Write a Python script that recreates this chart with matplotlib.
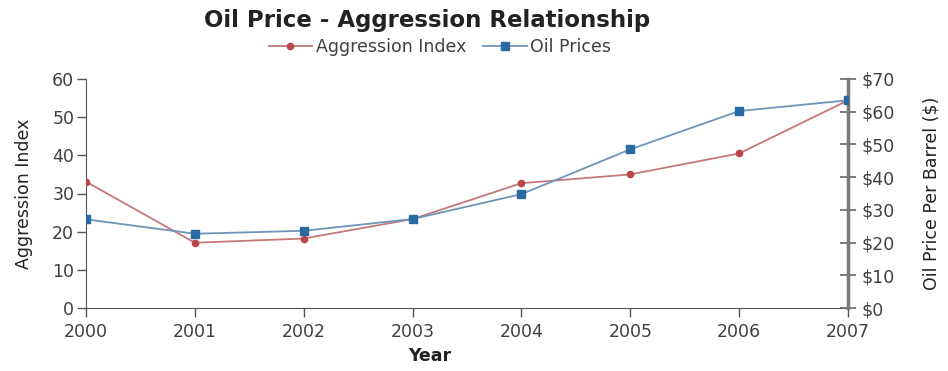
import matplotlib
matplotlib.use("Agg")
import matplotlib.pyplot as plt
from matplotlib.ticker import FuncFormatter

years = [2000, 2001, 2002, 2003, 2004, 2005, 2006, 2007]
aggression = [33.1, 17.1, 18.2, 23.3, 32.7, 35.0, 40.5, 54.4]
oil_prices = [27.1, 22.7, 23.6, 27.2, 34.8, 48.5, 60.2, 63.5]

plt.rcParams['font.family'] = ['DejaVu Sans']
text_col = '#404040'
red_line, red_mk = '#c4787a', '#b8474b'
blue_line, blue_mk = '#6f94b8', '#2a6aa3'

fig = plt.figure(figsize=(9.48, 3.71), dpi=100)
ax = fig.add_axes([86 / 948, 63 / 371, 762 / 948, 229 / 371])
ax2 = ax.twinx()

l1, = ax.plot(years, aggression, color=red_line, lw=1.3, marker='o', ms=4.5,
              mfc=red_mk, mec=red_mk, label='Aggression Index', zorder=3)
l2, = ax2.plot(years, oil_prices, color=blue_line, lw=1.3, marker='s', ms=6,
               mfc=blue_mk, mec=blue_mk, label='Oil Prices', zorder=3)

ax.set_xlim(2000, 2007)
ax.set_ylim(0, 60)
ax2.set_ylim(0, 70)
ax.set_xticks(years)
ax.set_yticks(range(0, 61, 10))
ax2.set_yticks(range(0, 71, 10))
ax2.yaxis.set_major_formatter(FuncFormatter(lambda v, p: f'${v:.0f}'))

ax.spines['top'].set_visible(False)
ax2.spines['top'].set_visible(False)
ax2.spines['left'].set_visible(False)
ax2.spines['bottom'].set_visible(False)
ax.spines['right'].set_visible(False)
ax.spines['left'].set_color('#555555')
ax.spines['bottom'].set_color('#555555')
ax2.spines['right'].set_color('#7a7a7a')
ax2.spines['right'].set_linewidth(2.5)

ax.tick_params(axis='both', labelsize=12.5, colors='#555555', labelcolor=text_col,
               length=6.5, width=1, pad=2)
ax.tick_params(axis='x', pad=4)
ax2.tick_params(axis='y', direction='inout', labelsize=12.5, colors='#666666',
                labelcolor=text_col, length=11, width=1.2, pad=4)

ax.set_ylabel('Aggression Index', fontsize=12.5, color='#222222', labelpad=14)
ax2.set_ylabel('Oil Price Per Barrel ($)', fontsize=12.5, color='#222222', labelpad=20)
fig.text(430 / 948, 1 - 356 / 371, 'Year', fontsize=12.5, fontweight='bold',
         color='#222222', ha='center', va='center')

fig.text(427 / 948, 1 - 20 / 371, 'Oil Price - Aggression Relationship',
         fontsize=16.5, fontweight='bold', color='#222222', ha='center', va='center')
fig.legend([l1, l2], ['Aggression Index', 'Oil Prices'], loc='center',
           bbox_to_anchor=(440 / 948, 1 - 47 / 371), ncol=2, frameon=False,
           fontsize=12.5, handlelength=2.5, handletextpad=0.2, columnspacing=1.0,
           labelcolor=text_col)

fig.savefig('out.png', dpi=100)
